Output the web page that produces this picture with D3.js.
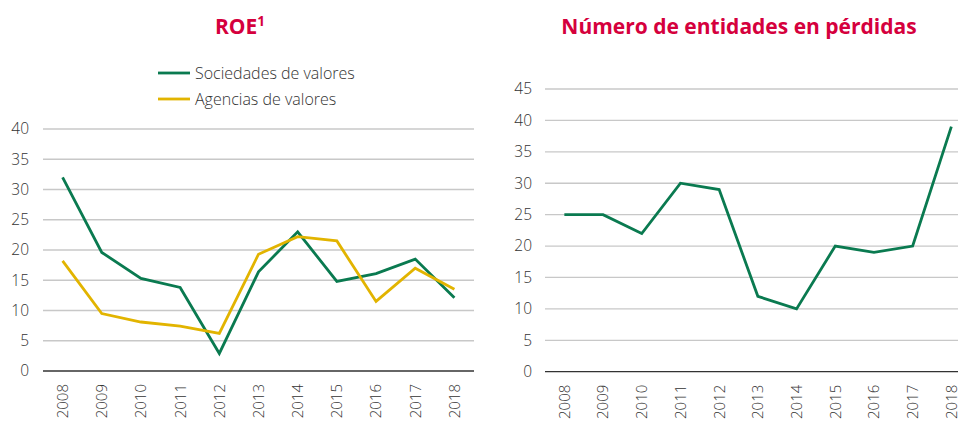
<!DOCTYPE html>
<html><head><meta charset="utf-8">
<script src="https://cdn.jsdelivr.net/npm/d3@7"></script>
<style>
html,body{margin:0;padding:0;background:#fff;}
svg{display:block;}
text{font-family:"Open Sans",sans-serif;}
</style></head>
<body>
<svg id="c" width="958" height="437"></svg>
<script>
const years = ["2008","2009","2010","2011","2012","2013","2014","2015","2016","2017","2018"];
const sociedades = [32, 19.6, 15.3, 13.8, 2.9, 16.4, 23.0, 14.8, 16.1, 18.5, 12.1];
const agencias = [18.2, 9.5, 8.1, 7.4, 6.2, 19.3, 22.2, 21.5, 11.5, 17.0, 13.5];
const entidadesPerdidas = [25, 25, 22, 30, 29, 12, 10, 20, 19, 20, 39];
const roeTicks = [0,5,10,15,20,25,30,35,40];
const perdTicks = [0,5,10,15,20,25,30,35,40,45];
const seriesNames = ["Sociedades de valores","Agencias de valores"];

const GREEN = "#0a7a50", GOLD = "#e2b400", TITLE = "#d5003d", TXT = "#333";
const svg = d3.select("#c");

function panel(opts){
  const g = svg.append("g");
  const x = d3.scaleBand().domain(years).range([opts.x0, opts.x1]);
  const y = d3.scaleLinear().domain([0, opts.ymax]).range([opts.y0, opts.yTop]);
  g.selectAll("line.grid").data(opts.ticks.filter(t=>t>0)).join("line")
    .attr("x1", opts.x0).attr("x2", opts.gridEnd)
    .attr("y1", d=>y(d)).attr("y2", d=>y(d))
    .attr("stroke", "#c8c8c8").attr("stroke-width", 1.3);
  g.append("line").attr("x1", opts.x0).attr("x2", opts.gridEnd)
    .attr("y1", y(0)).attr("y2", y(0)).attr("stroke", "#333").attr("stroke-width", 1.3);
  g.selectAll("text.yl").data(opts.ticks).join("text")
    .attr("x", opts.labelX).attr("y", d=>y(d)).attr("dy","0.35em")
    .attr("text-anchor","end").attr("fill", TXT).attr("font-size", 15.5).attr("font-weight",300)
    .text(d=>d);
  g.selectAll("text.xl").data(years).join("text")
    .attr("transform", d=>`translate(${x(d)+x.bandwidth()/2},${y(0)+13}) rotate(-90)`)
    .attr("dy","0.36em")
    .attr("text-anchor","end").attr("fill", TXT).attr("font-size", 15).attr("font-weight",300)
    .text(d=>d);
  const line = d3.line().x((d,i)=>x(years[i])+x.bandwidth()/2).y(d=>y(d));
  opts.series.forEach(s=>{
    g.append("path").datum(s.values).attr("d", line).attr("fill","none")
      .attr("stroke", s.color).attr("stroke-width", 2.8).attr("stroke-linejoin","miter");
  });
  return g;
}

panel({x0:43, x1:474, gridEnd:474, y0:371, yTop:129, ymax:40, ticks:roeTicks, labelX:29,
  series:[{values:sociedades,color:GREEN},{values:agencias,color:GOLD}]});
panel({x0:545, x1:970.7, gridEnd:958, y0:371.7, yTop:89, ymax:45, ticks:perdTicks, labelX:532,
  series:[{values:entidadesPerdidas,color:GREEN}]});

const t1 = svg.append("text").attr("x", 240).attr("y", 34).attr("text-anchor","middle")
  .attr("fill", TITLE).attr("font-size", 21).attr("font-weight", 700);
t1.append("tspan").text("ROE");
t1.append("tspan").attr("font-size", 13.5).attr("dy", -8).text("1");
svg.append("text").attr("x", 739).attr("y", 34).attr("text-anchor","middle")
  .attr("fill", TITLE).attr("font-size", 21).attr("font-weight", 700)
  .text("Número de entidades en pérdidas");

const lg = svg.append("g");
[GREEN, GOLD].forEach((c,i)=>{
  const yy = 73 + i*26;
  lg.append("line").attr("x1",158).attr("x2",190).attr("y1",yy).attr("y2",yy)
    .attr("stroke", c).attr("stroke-width", 2.8);
  lg.append("text").attr("x",195).attr("y",yy).attr("dy","0.35em")
    .attr("fill", TXT).attr("font-size", 16).attr("font-weight",300).text(seriesNames[i]);
});
</script>
</body></html>
